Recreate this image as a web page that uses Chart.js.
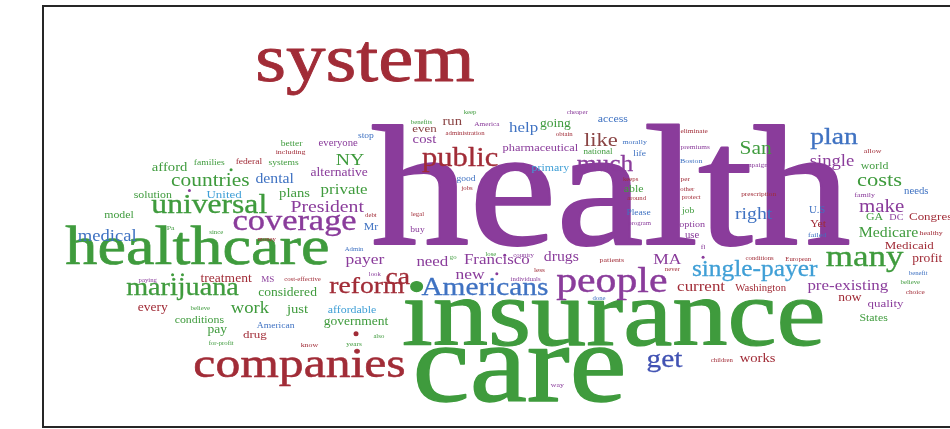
<!DOCTYPE html>
<html>
<head>
<meta charset="utf-8">
<script src="https://cdn.jsdelivr.net/npm/chart.js@4/dist/chart.umd.min.js"></script>
<style>
  html, body { margin: 0; padding: 0; background: #fff; overflow: hidden; }
  #wrap { position: relative; width: 950px; height: 429px; }
  #frame { position: absolute; left: 42px; top: 5px; width: 930px; height: 419px;
           border: 2px solid #262626; pointer-events: none; }
</style>
</head>
<body>
<div id="wrap">
  <canvas id="cloud" width="950" height="429"></canvas>
  <div id="frame"></div>
</div>
<script>
// word cloud: words, their weight, and where the layout put them (x, baseline y)
const words = [
  "health","insurance","care","system","healthcare","companies","people","Americans",
  "coverage","universal","public","single-payer","reform","many","marijuana","plan",
  "much","like","get","ca","San","costs","make","single","right","countries",
  "pre-existing","Medicare","President","NY","private","dental","medical","payer",
  "need","Francisco","new","drugs","MA","help","going","pharmaceutical","primary",
  "access","cost","even","run","works","current","Washington","now","quality",
  "States","profit","Medicaid","Congress","work","just","affordable","government",
  "treatment","considered","every","conditions","pay","drug","American","afford",
  "families","federal","systems","solution","United","plans","alternative","everyone",
  "stop","better","including","model","world","needs","allow","family","healthy",
  "U.S","Yet","failed","GA","DC","option","use","job","Please","able","life",
  "national","morally","eliminate","premiums","Boston","campaign","per","prescription",
  "other","protect","around","keeps","cheaper","keep","benefits","America",
  "administration","obtain","good","jobs","debt","legal","buy","Mr","Admin","go",
  "lose","country","less","look","individuals","patients","never","conditions",
  "European","done","fl","benefit","believe","choice","paying","Pa","since","money",
  "MS","cost-effective","believe","for-profit","know","years","also","children",
  "way","program"
];
const weights = [
  174,98,114,70,57,44,37,26,
  30.5,28,27,22.5,24.5,31,25,24.5,
  22.5,20,26,24.5,19,20,18.5,16.5,17.5,19,
  15,14,17.5,17.5,15,14,16.5,15.5,
  15,15,15.5,14,15.5,15,12,11,10.5,
  10.5,13,11.5,13,13,15,9.5,12,11.5,
  10.5,12,11.5,11.5,16.5,13,10.5,12,
  12,12,12,10.5,12,11.5,8.5,13,
  8.5,8.5,8.5,10.5,11.5,13,12,9.5,
  8.5,8.5,7,10.5,10.5,9.5,7,7,7,
  9.5,10.5,7,10.5,9,9,9.5,8.5,8.5,10.5,8.5,
  8,7,6.5,6.5,7,6.5,6.5,6.5,
  6,6,6,6,6,6,6,6.5,
  6,6,8.5,6,6,6,8.5,10.5,6,6,
  6,6,6.5,6,6,7,6,6,
  6,6,7,6,6,6.5,6,7,6,6,
  8,6,6,6,7,6.5,6,6,
  7,6
];
const xs = [
  612,615,520,364,195,298,613,485,
  293,207,460,757,366,868,180,837,
  606,602,666,397,758,883,885,835,756,208,
  851,892,326,349,343,273,104,364,
  432,497,470,562,669,524,556,541,551,
  614,424,424,452,760,703,763,853,889,
  877,931,913,937,248,296,351,355,
  224,286,150,197,215,253,274,167,
  207,247,282,150,222,293,338,337,
  365,290,289,116,878,920,876,868,935,
  820,821,820,878,900,694,694,690,640,635,641,
  599,636,696,697,693,756,687,761,
  689,693,638,632,578,470,421,487,
  465,565,466,467,370,417,417,370,353,453,
  491,524,540,374,526,613,674,762,
  801,600,705,922,914,919,145,168,214,265,
  266,301,198,219,308,353,378,724,
  558,641
];
const ys = [
  245,347,405,78,265,380,293,297,
  230,213,165,277,295,267,297,143,
  170,145,370,285,153,185,212,165,219,185,
  291,237,212,164,194,182,242,265,
  267,265,280,262,265,130,125,150,170,
  120,142,130,123,365,292,292,303,309,
  323,263,250,220,315,315,315,327,
  283,298,313,325,335,340,330,170,
  164,163,164,198,198,197,175,145,
  137,145,153,218,168,194,152,197,235,
  213,227,237,220,220,227,238,213,215,192,155,
  153,143,131,148,162,166,180,196,
  191,199,200,180,112,112,122,124,
  133,135,180,190,217,216,232,230,252,260,
  257,258,273,277,282,263,272,261,
  262,302,250,276,285,296,283,230,234,241,
  283,282,312,347,350,348,340,365,
  390,225
];
// colour group of each word: p purple, g green, r red, b blue, l light blue, k brown, d deep blue
const groups = [
  "p","g","g","r","g","r","p","b",
  "p","g","r","l","r","g","g","b",
  "p","k","d","r","g","g","p","p","b","g",
  "p","g","p","g","g","b","b","p",
  "p","p","p","p","p","b","g","p","l",
  "b","p","k","k","r","r","r","r","p",
  "g","r","r","r","g","g","l","g",
  "r","g","r","g","g","r","b","g",
  "g","r","g","g","l","g","p","p",
  "b","g","r","g","g","b","r","p","r",
  "b","r","b","g","p","p","p","g","b","g","b",
  "g","b","r","p","b","p","r","r",
  "r","r","r","r","p","g","g","p",
  "r","r","b","r","r","r","p","b","b","g",
  "g","p","r","p","p","r","r","r",
  "r","b","p","b","g","r","p","g","g","r",
  "p","r","g","g","r","g","g","r",
  "p","p"
];
const groupColors = {
  p: "#8a3c9b", g: "#3f9b3d", r: "#a12c37", b: "#3f72c2",
  l: "#3f9fd6", k: "#8a4444", d: "#4152b3"
};

// stray bullet marks in the cloud
const dotXs = [355, 229, 187, 170, 180, 505, 497, 705];
const dotYs = [336, 169, 190, 276, 276, 256, 275, 258];
const dotGroups = ["r","g","p","g","g","p","p","p"];

// the original face is wider and lower than Liberation Serif, so stretch a little
const fontStretch = 1.15;

const cloudText = {
  id: "cloudText",
  afterDatasetsDraw(chart) {
    const ctx = chart.ctx;
    const unit = chart.chartArea.height / 429;
    const meta = chart.getDatasetMeta(0);
    ctx.save();
    ctx.textAlign = "center";
    ctx.textBaseline = "alphabetic";
    ctx.lineJoin = "round";
    meta.data.forEach((pt, i) => {
      const size = weights[i] * unit;
      ctx.font = `${size}px "Liberation Serif", serif`;
      ctx.fillStyle = groupColors[groups[i]];
      ctx.strokeStyle = groupColors[groups[i]];
      ctx.lineWidth = size * 0.012;
      ctx.save();
      ctx.translate(pt.x, pt.y);
      ctx.scale(fontStretch, 1);
      ctx.fillText(words[i], 0, 0);
      if (size > 20) ctx.strokeText(words[i], 0, 0);
      ctx.restore();
    });
    ctx.restore();
  }
};

new Chart(document.getElementById("cloud"), {
  type: "scatter",
  data: {
    datasets: [
      { data: xs.map((x, i) => ({ x, y: ys[i] })), pointRadius: 0, pointHoverRadius: 0 },
      { data: dotXs.map((x, i) => ({ x, y: dotYs[i] })),
        pointRadius: dotGroups.map((g, i) => i === 0 ? 2.5 : 1.5),
        backgroundColor: dotGroups.map(g => groupColors[g]),
        borderWidth: 0 }
    ]
  },
  options: {
    responsive: false,
    animation: false,
    devicePixelRatio: 1,
    layout: { padding: 0 },
    plugins: { legend: { display: false }, tooltip: { enabled: false } },
    scales: {
      x: { type: "linear", min: 0, max: 950, display: false },
      y: { type: "linear", min: 0, max: 429, reverse: true, display: false }
    }
  },
  plugins: [cloudText]
});
</script>
</body>
</html>
